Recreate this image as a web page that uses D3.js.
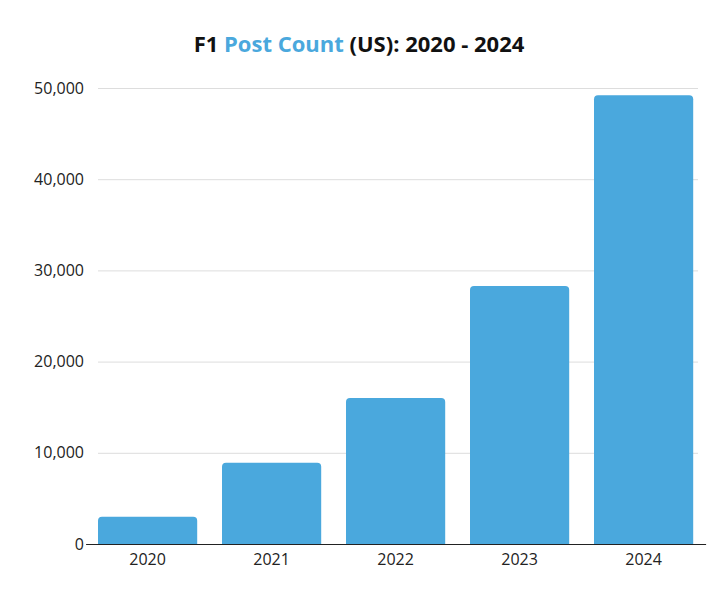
<!DOCTYPE html>
<html><head><meta charset="utf-8">
<script src="https://cdn.jsdelivr.net/npm/d3@7"></script>
<style>body{margin:0;background:#fff;font-family:"Open Sans",Lato,sans-serif;}</style>
</head><body><svg id="c" width="718" height="598"></svg>
<script>
const categories = ["2020","2021","2022","2023","2024"];
const postCounts = [3000, 8900, 16000, 28300, 49200];
const yTicks = [0,10000,20000,30000,40000,50000];

const svg = d3.select("#c");
const x = d3.scaleBand().domain(categories).range([85.6,705.6]).paddingInner(0.2).paddingOuter(0.1);
const y = d3.scaleLinear().domain([0,50000]).range([544,88]);
const blue = "#4aa8dd";

const t = svg.append("text").attr("x",359).attr("y",52).attr("text-anchor","middle")
  .attr("font-size",22).attr("font-weight",700).attr("fill","#111");
t.append("tspan").text("F1 ");
t.append("tspan").attr("fill",blue).text("Post Count");
t.append("tspan").text(" (US): 2020 - 2024");

const yAxis = svg.append("g").attr("transform","translate(98,0)")
  .call(d3.axisLeft(y).tickValues(yTicks).tickFormat(d3.format(",")).tickSize(0).tickPadding(14));
yAxis.select(".domain").remove();
yAxis.selectAll("text").attr("font-size",16).attr("fill","#222").attr("font-family","'Open Sans',sans-serif");
yAxis.selectAll(".tick line").attr("x1",0).attr("x2",600).attr("stroke","#dddddd");

const r = 4;
svg.selectAll("path.bar").data(postCounts).join("path").attr("class","bar").attr("fill",blue)
  .attr("d",(d,i)=>{const x0=x(categories[i]),w=x.bandwidth(),y0=y(d),y1=y(0);
    return `M${x0},${y1}V${y0+r}Q${x0},${y0} ${x0+r},${y0}H${x0+w-r}Q${x0+w},${y0} ${x0+w},${y0+r}V${y1}Z`;});

const xAxis = svg.append("g").attr("transform","translate(0,544)")
  .call(d3.axisBottom(x).tickSize(0).tickPadding(10));
xAxis.select(".domain").attr("stroke","#222");
xAxis.selectAll("text").attr("font-size",16).attr("fill","#222").attr("font-family","'Open Sans',sans-serif");
</script></body></html>
